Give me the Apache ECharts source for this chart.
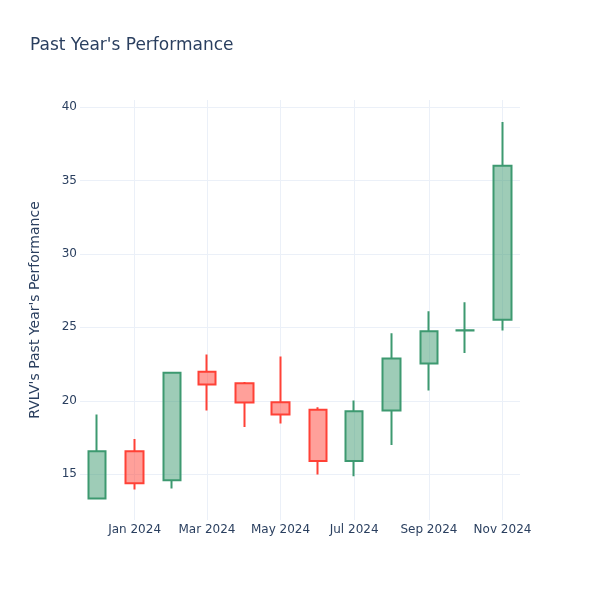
<!DOCTYPE html>
<html>
<head>
<meta charset="utf-8">
<script src="https://cdn.jsdelivr.net/npm/echarts@6/dist/echarts.min.js"></script>
<style>
html,body{margin:0;padding:0;background:#fff;}
#chart{width:600px;height:600px;}
</style>
</head>
<body>
<div id="chart"></div>
<script>
const dates  = ['2023-12-01','2024-01-01','2024-02-01','2024-03-01','2024-04-01','2024-05-01','2024-06-01','2024-07-01','2024-08-01','2024-09-01','2024-10-01','2024-11-01'];
const opens  = [13.34, 16.57, 14.59, 21.97, 21.20, 19.90, 19.38, 15.89, 19.34, 22.54, 24.78, 25.51];
const closes = [16.57, 14.39, 21.90, 21.11, 19.88, 19.07, 15.89, 19.29, 22.88, 24.74, 24.80, 36.00];
const lows   = [13.30, 13.96, 14.03, 19.34, 18.22, 18.45, 14.98, 14.86, 16.98, 20.70, 23.26, 24.79];
const highs  = [19.07, 17.40, 21.92, 23.15, 21.27, 23.02, 19.56, 20.02, 24.60, 26.10, 26.70, 38.98];
const monthNames = ['Jan','Feb','Mar','Apr','May','Jun','Jul','Aug','Sep','Oct','Nov','Dec'];

const rows = dates.map((d, i) => [d, opens[i], closes[i], lows[i], highs[i]]);
const FONT = 'DejaVu Sans';
const TXT = '#2a3f5f';
const GRID = '#EBF0F8';
const DAY = 86400000;

const chart = echarts.init(document.getElementById('chart'), null, {renderer: 'canvas'});
chart.setOption({
  animation: false,
  backgroundColor: '#fff',
  title: {
    text: "Past Year's Performance",
    left: 25, top: 32,
    textStyle: {fontFamily: FONT, fontSize: 17, fontWeight: 'normal', color: TXT}
  },
  grid: {left: 80, right: 80, top: 100, bottom: 80, containLabel: false},
  xAxis: {
    type: 'time',
    min: '2023-11-16 18:00',
    max: '2024-11-15 12:00',
    minInterval: 75 * DAY,
    maxInterval: 75 * DAY,
    axisLine: {show: false},
    axisTick: {show: false},
    splitLine: {show: true, showMinLine: false, showMaxLine: false, lineStyle: {color: GRID, width: 1}},
    axisLabel: {
      margin: 4,
      fontFamily: FONT, fontSize: 12, color: TXT,
      hideOverlap: false,
      formatter: function (v) { const d = new Date(v); return monthNames[d.getMonth()] + ' ' + d.getFullYear(); }
    }
  },
  yAxis: {
    type: 'value',
    min: 11.88, max: 40.48,
    splitNumber: 5,
    scale: true,
    name: "RVLV's Past Year's Performance",
    nameLocation: 'middle',
    nameGap: 38,
    nameTextStyle: {fontFamily: FONT, fontSize: 14, color: TXT},
    axisLine: {show: false},
    axisTick: {show: false},
    splitLine: {show: true, showMinLine: false, showMaxLine: false, lineStyle: {color: GRID, width: 1}},
    axisLabel: {margin: 3, fontFamily: FONT, fontSize: 12, color: TXT, showMinLabel: false, showMaxLabel: false}
  },
  series: [{
    type: 'candlestick',
    data: rows,
    encode: {x: 0, y: [1, 2, 3, 4]},
    barWidth: 18,
    itemStyle: {
      color: 'rgba(61,153,112,0.5)',
      color0: 'rgba(255,65,54,0.5)',
      borderColor: '#3D9970',
      borderColor0: '#FF4136',
      borderWidth: 2
    }
  }]
});
</script>
</body>
</html>
